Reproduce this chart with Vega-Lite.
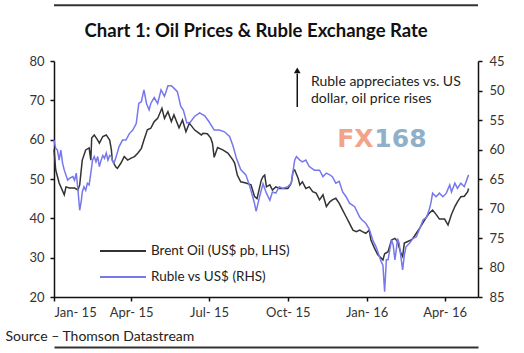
{
  "$schema": "https://vega.github.io/schema/vega-lite/v6.json",
  "width": 424,
  "height": 236,
  "autosize": {"type": "none"},
  "padding": {"top": 61, "left": 54, "right": 46, "bottom": 56},
  "background": "white",
  "config": {
    "view": {"stroke": null},
    "font": "Lato",
    "axis": {"grid": false, "domainColor": "#111", "domainWidth": 1.5, "tickColor": "#111", "tickWidth": 1.5, "tickSize": 4, "labelColor": "#333", "labelFontSize": 13, "labelFont": "Lato", "titleFont": "Lato", "labelOverlap": false}
  },
  "datasets": {
    "brent": [
      {"d": "2015-01-01", "v": 57.5}, {"d": "2015-01-03", "v": 52.3}, {"d": "2015-01-07", "v": 49}, {"d": "2015-01-13", "v": 46}, {"d": "2015-01-15", "v": 48}, {"d": "2015-01-19", "v": 47.7}, {"d": "2015-01-25", "v": 47.7}, {"d": "2015-01-29", "v": 47.2}, {"d": "2015-01-31", "v": 48.5},
      {"d": "2015-02-03", "v": 54.8}, {"d": "2015-02-07", "v": 57.4}, {"d": "2015-02-11", "v": 57.9}, {"d": "2015-02-13", "v": 54.8}, {"d": "2015-02-14", "v": 60.4}, {"d": "2015-02-17", "v": 61.2}, {"d": "2015-02-21", "v": 59.9}, {"d": "2015-02-23", "v": 59.1}, {"d": "2015-02-27", "v": 60.8},
      {"d": "2015-03-03", "v": 61.2}, {"d": "2015-03-07", "v": 59.9}, {"d": "2015-03-09", "v": 57.4}, {"d": "2015-03-10", "v": 54.8}, {"d": "2015-03-14", "v": 53.1}, {"d": "2015-03-16", "v": 52.7}, {"d": "2015-03-20", "v": 54}, {"d": "2015-03-24", "v": 55.7}, {"d": "2015-03-28", "v": 54.8},
      {"d": "2015-04-01", "v": 55.3}, {"d": "2015-04-05", "v": 55.7}, {"d": "2015-04-09", "v": 56.6}, {"d": "2015-04-13", "v": 57.8}, {"d": "2015-04-16", "v": 59.9}, {"d": "2015-04-20", "v": 62.5}, {"d": "2015-04-24", "v": 62.9}, {"d": "2015-04-28", "v": 64.6},
      {"d": "2015-05-02", "v": 65.4}, {"d": "2015-05-06", "v": 67.5}, {"d": "2015-05-07", "v": 68}, {"d": "2015-05-10", "v": 65.4}, {"d": "2015-05-14", "v": 67.1}, {"d": "2015-05-18", "v": 64.6}, {"d": "2015-05-21", "v": 66.3}, {"d": "2015-05-27", "v": 63}, {"d": "2015-05-31", "v": 65},
      {"d": "2015-06-04", "v": 62}, {"d": "2015-06-08", "v": 64.2}, {"d": "2015-06-14", "v": 62.5}, {"d": "2015-06-22", "v": 61.2}, {"d": "2015-06-24", "v": 61.6}, {"d": "2015-06-29", "v": 61.5},
      {"d": "2015-07-03", "v": 60.4}, {"d": "2015-07-05", "v": 59.1}, {"d": "2015-07-07", "v": 55.5}, {"d": "2015-07-11", "v": 58}, {"d": "2015-07-17", "v": 57.4}, {"d": "2015-07-23", "v": 56.6}, {"d": "2015-07-29", "v": 54.8}, {"d": "2015-07-31", "v": 54},
      {"d": "2015-08-03", "v": 51}, {"d": "2015-08-07", "v": 49.3}, {"d": "2015-08-13", "v": 49}, {"d": "2015-08-19", "v": 48.5}, {"d": "2015-08-23", "v": 45.6}, {"d": "2015-08-26", "v": 45}, {"d": "2015-08-31", "v": 49.7},
      {"d": "2015-09-02", "v": 50.6}, {"d": "2015-09-04", "v": 51}, {"d": "2015-09-06", "v": 48}, {"d": "2015-09-10", "v": 48.5}, {"d": "2015-09-13", "v": 47.2}, {"d": "2015-09-17", "v": 48}, {"d": "2015-09-21", "v": 47.6}, {"d": "2015-09-27", "v": 47.6},
      {"d": "2015-10-01", "v": 47.6}, {"d": "2015-10-05", "v": 48.9}, {"d": "2015-10-07", "v": 51.9}, {"d": "2015-10-09", "v": 52.3}, {"d": "2015-10-13", "v": 50.2}, {"d": "2015-10-15", "v": 48.5}, {"d": "2015-10-18", "v": 49.3}, {"d": "2015-10-22", "v": 47.6}, {"d": "2015-10-26", "v": 48}, {"d": "2015-10-30", "v": 46.8},
      {"d": "2015-11-03", "v": 46.4}, {"d": "2015-11-07", "v": 44.7}, {"d": "2015-11-11", "v": 46}, {"d": "2015-11-15", "v": 43}, {"d": "2015-11-19", "v": 44.2}, {"d": "2015-11-22", "v": 44.7}, {"d": "2015-11-26", "v": 45.1}, {"d": "2015-11-30", "v": 43.8},
      {"d": "2015-12-04", "v": 42.1}, {"d": "2015-12-08", "v": 40.4}, {"d": "2015-12-12", "v": 38.7}, {"d": "2015-12-16", "v": 37}, {"d": "2015-12-20", "v": 36.6}, {"d": "2015-12-24", "v": 37}, {"d": "2015-12-27", "v": 36.6}, {"d": "2015-12-31", "v": 36.2},
      {"d": "2016-01-04", "v": 37}, {"d": "2016-01-06", "v": 34.5}, {"d": "2016-01-10", "v": 32.5}, {"d": "2016-01-14", "v": 30.7}, {"d": "2016-01-18", "v": 29.9}, {"d": "2016-01-20", "v": 29.4}, {"d": "2016-01-22", "v": 31}, {"d": "2016-01-26", "v": 31.5}, {"d": "2016-01-30", "v": 34.5},
      {"d": "2016-02-03", "v": 34.9}, {"d": "2016-02-06", "v": 34.1}, {"d": "2016-02-10", "v": 31.1}, {"d": "2016-02-12", "v": 30.3}, {"d": "2016-02-14", "v": 33.7}, {"d": "2016-02-18", "v": 34.1}, {"d": "2016-02-22", "v": 34.5}, {"d": "2016-02-24", "v": 34.9}, {"d": "2016-02-28", "v": 36.2},
      {"d": "2016-03-03", "v": 37.5}, {"d": "2016-03-07", "v": 39}, {"d": "2016-03-11", "v": 40.4}, {"d": "2016-03-14", "v": 41.3}, {"d": "2016-03-18", "v": 42.1}, {"d": "2016-03-22", "v": 41}, {"d": "2016-03-26", "v": 39.8},
      {"d": "2016-04-01", "v": 39.8}, {"d": "2016-04-05", "v": 38.3}, {"d": "2016-04-09", "v": 41}, {"d": "2016-04-13", "v": 43}, {"d": "2016-04-16", "v": 44.2}, {"d": "2016-04-20", "v": 45.5}, {"d": "2016-04-24", "v": 45.6}, {"d": "2016-04-28", "v": 46.8}, {"d": "2016-04-29", "v": 47.6}
    ],
    "ruble": [
      {"d": "2015-01-01", "v": 58.4}, {"d": "2015-01-03", "v": 59.8}, {"d": "2015-01-05", "v": 60.1}, {"d": "2015-01-07", "v": 61.8}, {"d": "2015-01-09", "v": 60.1}, {"d": "2015-01-11", "v": 62.3}, {"d": "2015-01-13", "v": 63.5}, {"d": "2015-01-17", "v": 65.2}, {"d": "2015-01-19", "v": 64.9}, {"d": "2015-01-23", "v": 64.6}, {"d": "2015-01-25", "v": 65.2}, {"d": "2015-01-27", "v": 64}, {"d": "2015-01-29", "v": 66.9}, {"d": "2015-01-31", "v": 70.3},
      {"d": "2015-02-02", "v": 68.6}, {"d": "2015-02-03", "v": 67.2}, {"d": "2015-02-05", "v": 66.3}, {"d": "2015-02-07", "v": 66.9}, {"d": "2015-02-09", "v": 65.7}, {"d": "2015-02-11", "v": 66}, {"d": "2015-02-13", "v": 64}, {"d": "2015-02-15", "v": 61.8}, {"d": "2015-02-17", "v": 61.2}, {"d": "2015-02-19", "v": 62.1}, {"d": "2015-02-21", "v": 61.2}, {"d": "2015-02-23", "v": 62.9}, {"d": "2015-02-25", "v": 61.8}, {"d": "2015-02-27", "v": 61},
      {"d": "2015-03-01", "v": 61.5}, {"d": "2015-03-03", "v": 60.6}, {"d": "2015-03-05", "v": 61.8}, {"d": "2015-03-07", "v": 61}, {"d": "2015-03-09", "v": 61.2}, {"d": "2015-03-10", "v": 61.8}, {"d": "2015-03-12", "v": 62.3}, {"d": "2015-03-14", "v": 61.5}, {"d": "2015-03-18", "v": 59.5}, {"d": "2015-03-22", "v": 58.4}, {"d": "2015-03-26", "v": 58.4}, {"d": "2015-03-30", "v": 57.3},
      {"d": "2015-04-03", "v": 56.7}, {"d": "2015-04-07", "v": 55.6}, {"d": "2015-04-10", "v": 52.2}, {"d": "2015-04-13", "v": 51.9}, {"d": "2015-04-16", "v": 49.9}, {"d": "2015-04-19", "v": 52.2}, {"d": "2015-04-22", "v": 53.3}, {"d": "2015-04-24", "v": 52.2}, {"d": "2015-04-28", "v": 51.2},
      {"d": "2015-05-02", "v": 52.2}, {"d": "2015-05-06", "v": 49.9}, {"d": "2015-05-10", "v": 51}, {"d": "2015-05-14", "v": 49.2}, {"d": "2015-05-18", "v": 49.2}, {"d": "2015-05-21", "v": 49.6}, {"d": "2015-05-25", "v": 50.2}, {"d": "2015-05-29", "v": 52.7},
      {"d": "2015-06-01", "v": 53.3}, {"d": "2015-06-05", "v": 55.5}, {"d": "2015-06-09", "v": 55.4}, {"d": "2015-06-14", "v": 54.4}, {"d": "2015-06-20", "v": 53.8}, {"d": "2015-06-26", "v": 54.3},
      {"d": "2015-07-01", "v": 55.3}, {"d": "2015-07-07", "v": 56.7}, {"d": "2015-07-13", "v": 56.7}, {"d": "2015-07-19", "v": 57}, {"d": "2015-07-25", "v": 57.8}, {"d": "2015-07-29", "v": 59.4},
      {"d": "2015-08-02", "v": 61.5}, {"d": "2015-08-07", "v": 63.4}, {"d": "2015-08-13", "v": 64.3}, {"d": "2015-08-17", "v": 66}, {"d": "2015-08-21", "v": 68}, {"d": "2015-08-23", "v": 69.1}, {"d": "2015-08-25", "v": 70.5}, {"d": "2015-08-29", "v": 68},
      {"d": "2015-09-02", "v": 65.8}, {"d": "2015-09-06", "v": 67.4}, {"d": "2015-09-10", "v": 68.6}, {"d": "2015-09-13", "v": 67.2}, {"d": "2015-09-17", "v": 67.4}, {"d": "2015-09-21", "v": 66.3}, {"d": "2015-09-25", "v": 66.6},
      {"d": "2015-10-01", "v": 66.3}, {"d": "2015-10-05", "v": 65.7}, {"d": "2015-10-09", "v": 61.8}, {"d": "2015-10-11", "v": 61.2}, {"d": "2015-10-15", "v": 61.8}, {"d": "2015-10-18", "v": 62.1}, {"d": "2015-10-22", "v": 61.8}, {"d": "2015-10-26", "v": 62.9},
      {"d": "2015-11-01", "v": 63.5}, {"d": "2015-11-07", "v": 63.5}, {"d": "2015-11-11", "v": 64.6}, {"d": "2015-11-15", "v": 64}, {"d": "2015-11-19", "v": 64.3}, {"d": "2015-11-22", "v": 64.6}, {"d": "2015-11-26", "v": 65.7}, {"d": "2015-11-30", "v": 65.4},
      {"d": "2015-12-04", "v": 67.2}, {"d": "2015-12-08", "v": 68}, {"d": "2015-12-12", "v": 69.1}, {"d": "2015-12-18", "v": 69.7}, {"d": "2015-12-24", "v": 71.5}, {"d": "2015-12-27", "v": 72}, {"d": "2015-12-31", "v": 72.5},
      {"d": "2016-01-04", "v": 73.5}, {"d": "2016-01-08", "v": 75.3}, {"d": "2016-01-12", "v": 76.5}, {"d": "2016-01-16", "v": 78.2}, {"d": "2016-01-18", "v": 79}, {"d": "2016-01-20", "v": 79.6}, {"d": "2016-01-22", "v": 84.1}, {"d": "2016-01-24", "v": 78.7}, {"d": "2016-01-26", "v": 78.7}, {"d": "2016-01-28", "v": 77}, {"d": "2016-01-30", "v": 75.3},
      {"d": "2016-02-01", "v": 76.2}, {"d": "2016-02-03", "v": 78.7}, {"d": "2016-02-05", "v": 76.5}, {"d": "2016-02-06", "v": 75.1}, {"d": "2016-02-08", "v": 75.9}, {"d": "2016-02-10", "v": 78.2}, {"d": "2016-02-12", "v": 80.4}, {"d": "2016-02-14", "v": 77.9}, {"d": "2016-02-16", "v": 76.5}, {"d": "2016-02-20", "v": 75.9}, {"d": "2016-02-24", "v": 75.1}, {"d": "2016-02-28", "v": 74.8},
      {"d": "2016-03-03", "v": 73.4}, {"d": "2016-03-07", "v": 71.9}, {"d": "2016-03-11", "v": 71.5}, {"d": "2016-03-14", "v": 70.2}, {"d": "2016-03-16", "v": 69.1}, {"d": "2016-03-18", "v": 67.4}, {"d": "2016-03-22", "v": 68}, {"d": "2016-03-26", "v": 67.4}, {"d": "2016-03-30", "v": 68},
      {"d": "2016-04-03", "v": 67.4}, {"d": "2016-04-07", "v": 66}, {"d": "2016-04-09", "v": 67.2}, {"d": "2016-04-13", "v": 65.7}, {"d": "2016-04-16", "v": 66.6}, {"d": "2016-04-20", "v": 65.7}, {"d": "2016-04-24", "v": 66.3}, {"d": "2016-04-29", "v": 64.3}
    ]
  },
  "layer": [
    {
      "layer": [
        {
          "data": {"name": "brent"},
          "mark": {"type": "line", "strokeWidth": 1.5, "interpolate": "linear"},
          "encoding": {
            "x": {"field": "d", "type": "temporal",
              "scale": {"type": "utc", "domain": [{"year": 2015, "month": 1, "date": 1, "utc": true}, {"year": 2016, "month": 5, "date": 10, "utc": true}]},
              "axis": {"values": [
                {"year": 2015, "month": 1, "date": 1, "utc": true},
                {"year": 2015, "month": 4, "date": 1, "utc": true},
                {"year": 2015, "month": 7, "date": 1, "utc": true},
                {"year": 2015, "month": 10, "date": 1, "utc": true},
                {"year": 2016, "month": 1, "date": 1, "utc": true},
                {"year": 2016, "month": 4, "date": 1, "utc": true}],
                "format": "%b- %y", "labelPadding": 5, "labelOverlap": false,
                "title": "Source – Thomson Datastream", "titleX": -49, "titleY": 43, "titleAlign": "left", "titleAnchor": "start", "titleBaseline": "alphabetic", "titleFontSize": 14, "titleFontWeight": "normal", "titleColor": "#222"}},
            "y": {"field": "v", "type": "quantitative", "scale": {"domain": [20, 80], "nice": false, "zero": false},
              "axis": {"values": [20, 30, 40, 50, 60, 70, 80], "tickCount": 7, "title": null, "labelPadding": 6, "labelOverlap": false}},
            "color": {"datum": "Brent Oil (US$ pb, LHS)", "type": "nominal",
              "scale": {"domain": ["Brent Oil (US$ pb, LHS)"], "range": ["#333333"]},
              "legend": {"orient": "none", "legendX": 45, "legendY": 166, "title": null, "symbolType": "stroke", "symbolSize": 2116, "symbolStrokeWidth": 2, "labelFontSize": 13.5, "labelColor": "#222", "labelOffset": 4}}
          }
        },
        {
          "data": {"values": [{}]},
          "mark": {"type": "rule", "color": "#333", "strokeWidth": 2, "clip": false},
          "encoding": {
            "x": {"datum": {"year": 2015, "month": 1, "date": 1, "utc": true}, "type": "temporal"},
            "x2": {"datum": {"year": 2016, "month": 5, "date": 10, "utc": true}},
            "y": {"datum": 94.2, "type": "quantitative", "axis": {"values": [20, 30, 40, 50, 60, 70, 80], "tickCount": 7, "title": null, "labelPadding": 6, "labelOverlap": false}}
          }
        },
        {
          "data": {"values": [{}]},
          "mark": {"type": "text", "text": "Chart 1: Oil Prices & Ruble Exchange Rate", "align": "center", "baseline": "alphabetic", "fontSize": 18.5, "fontWeight": "bold", "color": "#111", "font": "Lato", "clip": false},
          "encoding": {
            "x": {"datum": {"year": 2015, "month": 8, "date": 25, "utc": true}, "type": "temporal"},
            "y": {"datum": 86.2, "type": "quantitative", "axis": {"values": [20, 30, 40, 50, 60, 70, 80], "tickCount": 7, "title": null, "labelPadding": 6, "labelOverlap": false}}
          }
        },
        {
          "data": {"values": [{}]},
          "mark": {"type": "rule", "color": "#111", "strokeWidth": 1.5},
          "encoding": {
            "x": {"datum": {"year": 2015, "month": 10, "date": 12, "utc": true}, "type": "temporal"},
            "y": {"datum": 76.8, "type": "quantitative", "axis": {"values": [20, 30, 40, 50, 60, 70, 80], "tickCount": 7, "title": null, "labelPadding": 6, "labelOverlap": false}},
            "y2": {"datum": 68.3}
          }
        },
        {
          "data": {"values": [{}]},
          "mark": {"type": "point", "shape": "triangle-up", "filled": true, "color": "#111", "size": 45, "opacity": 1},
          "encoding": {
            "x": {"datum": {"year": 2015, "month": 10, "date": 12, "utc": true}, "type": "temporal"},
            "y": {"datum": 77.6, "type": "quantitative", "axis": {"values": [20, 30, 40, 50, 60, 70, 80], "tickCount": 7, "title": null, "labelPadding": 6, "labelOverlap": false}}
          }
        },
        {
          "data": {"values": [{}]},
          "mark": {"type": "text", "text": ["Ruble appreciates vs. US", "dollar, oil price rises"], "align": "left", "baseline": "alphabetic", "fontSize": 14, "lineHeight": 17, "color": "#222", "font": "Lato"},
          "encoding": {
            "x": {"datum": {"year": 2015, "month": 10, "date": 28, "utc": true}, "type": "temporal"},
            "y": {"datum": 73.6, "type": "quantitative", "axis": {"values": [20, 30, 40, 50, 60, 70, 80], "tickCount": 7, "title": null, "labelPadding": 6, "labelOverlap": false}}
          }
        },
        {
          "data": {"values": [{}]},
          "mark": {"type": "text", "text": "FX", "align": "right", "baseline": "alphabetic", "fontSize": 25, "fontWeight": "bold", "font": "DejaVu Sans", "color": "#f2a488"},
          "encoding": {
            "x": {"datum": {"year": 2016, "month": 1, "date": 9, "utc": true}, "type": "temporal"},
            "y": {"datum": 58.1, "type": "quantitative", "axis": {"values": [20, 30, 40, 50, 60, 70, 80], "tickCount": 7, "title": null, "labelPadding": 6, "labelOverlap": false}}
          }
        },
        {
          "data": {"values": [{}]},
          "mark": {"type": "text", "text": "168", "align": "left", "baseline": "alphabetic", "fontSize": 25, "fontWeight": "bold", "font": "DejaVu Sans", "color": "#8fb0c8"},
          "encoding": {
            "x": {"datum": {"year": 2016, "month": 1, "date": 10, "utc": true}, "type": "temporal"},
            "y": {"datum": 58.1, "type": "quantitative", "axis": {"values": [20, 30, 40, 50, 60, 70, 80], "tickCount": 7, "title": null, "labelPadding": 6, "labelOverlap": false}}
          }
        }
      ]
    },
    {
      "data": {"name": "ruble"},
      "mark": {"type": "line", "strokeWidth": 1.5, "interpolate": "linear"},
      "encoding": {
        "x": {"field": "d", "type": "temporal",
          "axis": {"orient": "bottom", "offset": 50, "labels": false, "ticks": false, "domain": true, "domainColor": "#333", "domainWidth": 2, "title": null, "grid": false}},
        "y": {"field": "v", "type": "quantitative", "scale": {"domain": [45, 85], "reverse": true, "nice": false, "zero": false},
          "axis": {"orient": "right", "values": [45, 50, 55, 60, 65, 70, 75, 80, 85], "title": null, "labelPadding": 7}},
        "color": {"datum": "Ruble vs US$ (RHS)", "type": "nominal",
          "scale": {"domain": ["Ruble vs US$ (RHS)"], "range": ["#7777ee"]},
          "legend": {"orient": "none", "legendX": 45, "legendY": 192, "title": null, "symbolType": "stroke", "symbolSize": 2116, "symbolStrokeWidth": 2, "labelFontSize": 13.5, "labelColor": "#222", "labelOffset": 4}}
      }
    }
  ],
  "resolve": {"scale": {"y": "independent", "color": "independent"}, "axis": {"x": "independent"}}
}
